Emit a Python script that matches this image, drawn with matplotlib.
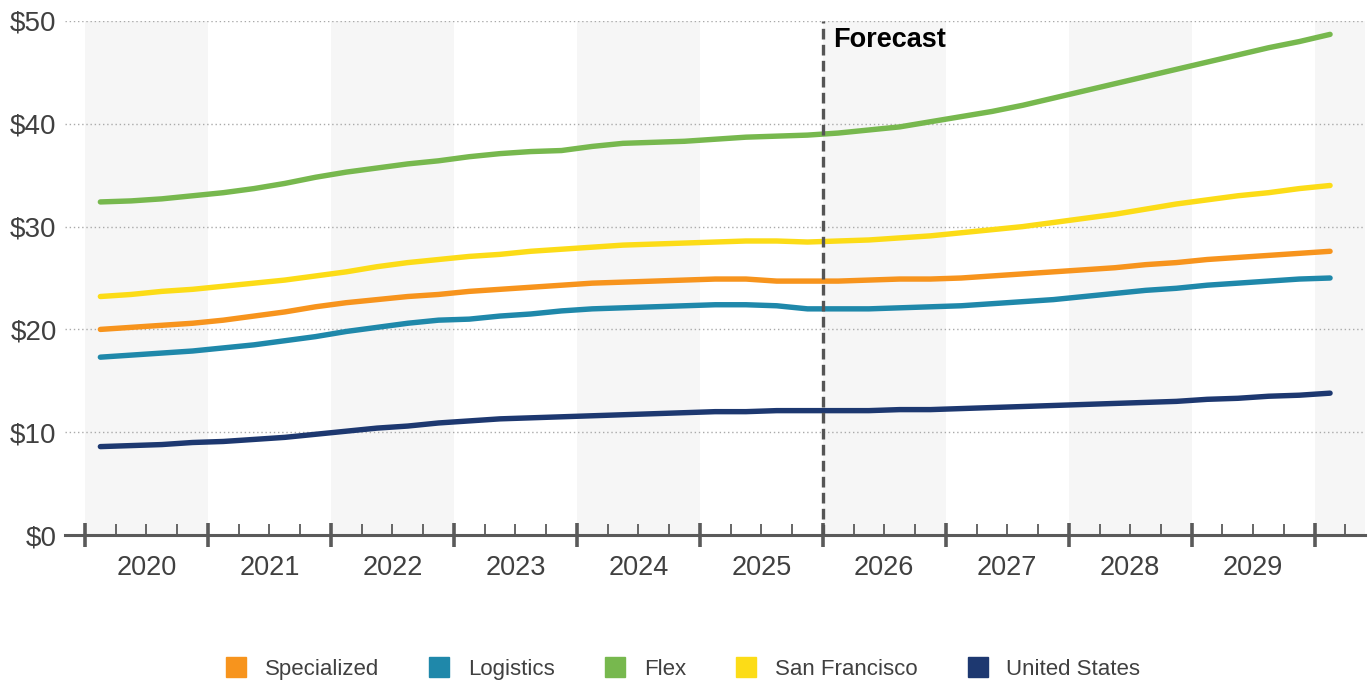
import matplotlib
matplotlib.use('Agg')
import matplotlib.pyplot as plt
from matplotlib.lines import Line2D
import numpy as np

# 季度数据 2020Q1 - 2030Q1 (41 points)
start_year = 2020
years = list(range(2020, 2030))
forecast_year = 2026

specialized = [20.0, 20.2, 20.4, 20.6, 20.9, 21.3, 21.7, 22.2, 22.6, 22.9,
               23.2, 23.4, 23.7, 23.9, 24.1, 24.3, 24.5, 24.6, 24.7, 24.8,
               24.9, 24.9, 24.7, 24.7, 24.7, 24.8, 24.9, 24.9, 25.0, 25.2,
               25.4, 25.6, 25.8, 26.0, 26.3, 26.5, 26.8, 27.0, 27.2, 27.4,
               27.6]
logistics = [17.3, 17.5, 17.7, 17.9, 18.2, 18.5, 18.9, 19.3, 19.8, 20.2,
             20.6, 20.9, 21.0, 21.3, 21.5, 21.8, 22.0, 22.1, 22.2, 22.3,
             22.4, 22.4, 22.3, 22.0, 22.0, 22.0, 22.1, 22.2, 22.3, 22.5,
             22.7, 22.9, 23.2, 23.5, 23.8, 24.0, 24.3, 24.5, 24.7, 24.9,
             25.0]
flex = [32.4, 32.5, 32.7, 33.0, 33.3, 33.7, 34.2, 34.8, 35.3, 35.7,
        36.1, 36.4, 36.8, 37.1, 37.3, 37.4, 37.8, 38.1, 38.2, 38.3,
        38.5, 38.7, 38.8, 38.9, 39.1, 39.4, 39.7, 40.2, 40.7, 41.2,
        41.8, 42.5, 43.2, 43.9, 44.6, 45.3, 46.0, 46.7, 47.4, 48.0,
        48.7]
san_francisco = [23.2, 23.4, 23.7, 23.9, 24.2, 24.5, 24.8, 25.2, 25.6, 26.1,
                 26.5, 26.8, 27.1, 27.3, 27.6, 27.8, 28.0, 28.2, 28.3, 28.4,
                 28.5, 28.6, 28.6, 28.5, 28.6, 28.7, 28.9, 29.1, 29.4, 29.7,
                 30.0, 30.4, 30.8, 31.2, 31.7, 32.2, 32.6, 33.0, 33.3, 33.7,
                 34.0]
united_states = [8.6, 8.7, 8.8, 9.0, 9.1, 9.3, 9.5, 9.8, 10.1, 10.4,
                 10.6, 10.9, 11.1, 11.3, 11.4, 11.5, 11.6, 11.7, 11.8, 11.9,
                 12.0, 12.0, 12.1, 12.1, 12.1, 12.1, 12.2, 12.2, 12.3, 12.4,
                 12.5, 12.6, 12.7, 12.8, 12.9, 13.0, 13.2, 13.3, 13.5, 13.6,
                 13.8]

series_names = ['Specialized', 'Logistics', 'Flex', 'San Francisco', 'United States']
series_values = [specialized, logistics, flex, san_francisco, united_states]
series_colors = ['#F7941D', '#1F88AA', '#77B84E', '#FCDC17', '#1D3870']
y_ticks = [0, 10, 20, 30, 40, 50]

plt.rcParams['font.family'] = ['Liberation Sans', 'DejaVu Sans']
text_color = '#404040'
axis_color = '#5A5A5A'

fig = plt.figure(figsize=(13.71, 6.84), dpi=100)
ax = fig.add_axes([0.0474, 0.2178, 0.948, 0.7515])

# 季度中点作为 x 坐标
n = len(flex)
x = start_year + (np.arange(n) + 0.5) / 4.0

x_left = start_year - 20 / 123.0
x_right = x_left + 1300 / 123.0
ax.set_xlim(x_left, x_right)
ax.set_ylim(0, 50)

# 隔年灰色底纹
for yr in range(start_year, 2031, 2):
    ax.axvspan(yr, yr + 1, color='#F6F6F6', lw=0, zorder=0)

# 横向网格线
for v in y_ticks[1:]:
    ax.axhline(v, color='#AAAAAA', lw=1, ls=(0, (1, 2)), zorder=1)

for name, vals, col in zip(series_names, series_values, series_colors):
    ax.plot(x, vals, color=col, lw=3.9, solid_capstyle='round',
            solid_joinstyle='round', zorder=3, label=name)

# 预测分界线
ax.axvline(forecast_year, color='#555555', lw=2.4, ls=(0, (3.2, 1.6)), zorder=5)
ax.text(forecast_year + 0.08, 48.2, 'Forecast', fontsize=19.5, fontweight='bold',
        color='black', va='center', ha='left', zorder=6)

# 坐标轴样式
for s in ['top', 'right', 'left']:
    ax.spines[s].set_visible(False)
ax.spines['bottom'].set_color(axis_color)
ax.spines['bottom'].set_linewidth(2.2)
ax.spines['bottom'].set_zorder(4)

ax.set_yticks(y_ticks)
ax.set_yticklabels(['$%d' % v for v in y_ticks])
ax.tick_params(axis='y', length=0, pad=6, labelsize=20, labelcolor=text_color)

ax.set_xticks(list(range(start_year, 2031)))
ax.set_xticklabels([])
minor = [yr + q / 4.0 for yr in range(start_year, 2031) for q in (1, 2, 3)]
minor = [m for m in minor if m < x_right]
ax.set_xticks(minor, minor=True)
ax.tick_params(axis='x', which='major', direction='inout', length=17,
               width=2.6, color=axis_color)
ax.tick_params(axis='x', which='minor', direction='in', length=8,
               width=1.3, color=axis_color)

# 年份标签放在每年中间
for yr in years:
    ax.text(yr + 0.5, -1.9, str(yr), transform=ax.transData, ha='center',
            va='top', fontsize=19.5, color=text_color)

# 图例
handles = [Line2D([], [], marker='s', ls='none', markersize=14,
                  markerfacecolor=c, markeredgecolor=c) for c in series_colors]
fig.legend(handles, series_names, loc='center', bbox_to_anchor=(0.498, 0.021),
           ncol=5, frameon=False, fontsize=16, handlelength=1.0,
           handletextpad=0.8, columnspacing=2.2, labelcolor=text_color)

fig.savefig('out.png', dpi=100)
